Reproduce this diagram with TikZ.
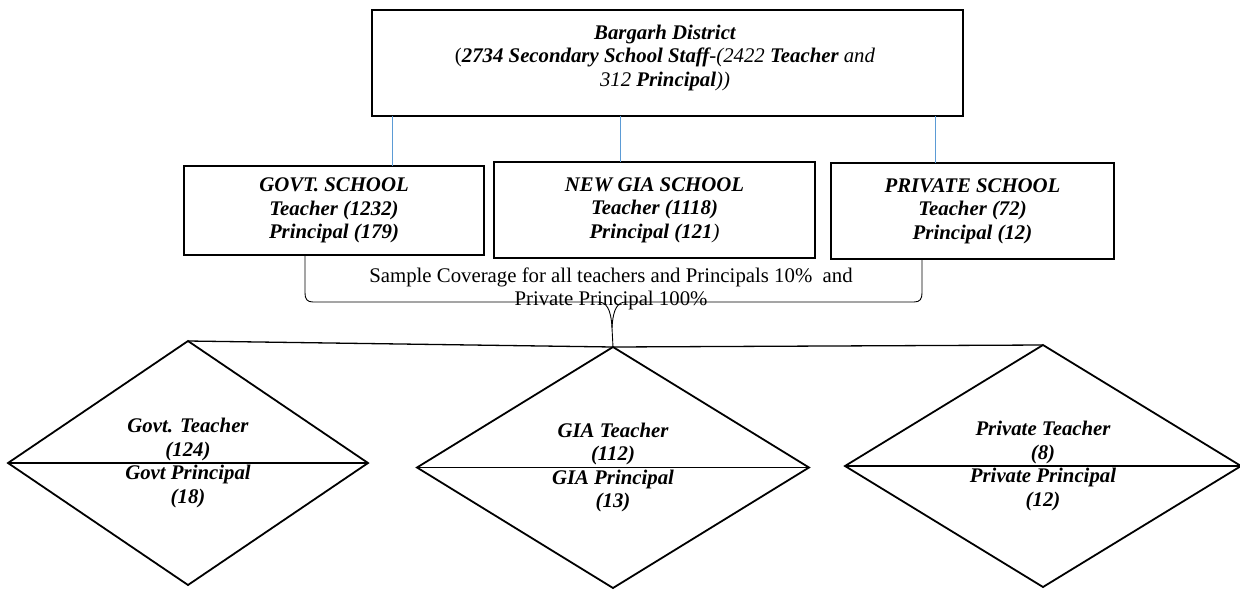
\documentclass[tikz,border=0pt]{standalone}
\usepackage{fontspec}
\setmainfont{Liberation Serif}[BoldFont={Liberation Serif Bold},ItalicFont={Liberation Serif Italic},BoldItalicFont={Liberation Serif Bold Italic}]
\usetikzlibrary{shapes.geometric}
\definecolor{linkblue}{RGB}{91,155,213}
\begin{document}
\begin{tikzpicture}[x=1pt,y=-1pt,
  txt/.style={align=center, inner sep=0pt, font=\fontsize{20.8}{23.5}\selectfont},
  lbl/.style={txt, font=\fontsize{20.8}{23.5}\selectfont\bfseries\itshape},
  box/.style={draw, line width=2.4pt, inner sep=0pt, outer sep=0pt},
  dia/.style={lbl, draw, diamond, line width=1.8pt, outer sep=0pt},
  link/.style={draw=linkblue, line width=0.9pt},
  bracel/.style={draw, line width=0.9pt},
  baseline/.style={draw, line width=1.3pt}]
\useasboundingbox (0,0) rectangle (1240,590);

% top box
\node[box, minimum width=591pt, minimum height=106pt] (top) at (667.5,63) {};
\node[lbl] (toptxt) at (665,57.5) {Bargarh District\\{\mdseries\upshape(}2734 Secondary School Staff{\mdseries-(2422} Teacher {\mdseries and}\\{\mdseries 312} Principal{\mdseries))}};

% school boxes
\node[box, lbl, minimum width=300pt, minimum height=89pt] (govt) at (334,210.5) {GOVT. SCHOOL\\Teacher (1232)\\Principal (179)};
\node[box, lbl, minimum width=321pt, minimum height=96pt] (gia) at (654.5,210) {NEW GIA SCHOOL\\Teacher (1118)\\Principal (121{\mdseries)}};
\node[box, lbl, minimum width=283pt, minimum height=96pt] (priv) at (972.5,211) {PRIVATE SCHOOL\\Teacher (72)\\Principal (12)};

% blue links
\coordinate (x1) at (392,0);
\coordinate (x2) at (620,0);
\coordinate (x3) at (935,0);
\draw[link] (top.south -| x1) -- (govt.north -| x1);
\draw[link] (top.south -| x2) -- (gia.north -| x2);
\draw[link] (top.south -| x3) -- (priv.north -| x3);

% diamonds
\node[dia, minimum width=360pt, minimum height=244pt] (d1) at (188,463) {Govt. Teacher\\(124)\\Govt Principal\\(18)};
\node[dia, minimum width=392pt, minimum height=241pt] (d2) at (613,467.5) {GIA Teacher\\(112)\\GIA Principal\\(13)};
\node[dia, minimum width=396pt, minimum height=242pt] (d3) at (1043,466) {Private Teacher\\(8)\\Private Principal\\(12)};
\draw[line width=1.8pt] (d1.west) -- (d1.east);
\draw[line width=1.8pt] (d2.west) -- (d2.east);
\draw[line width=1.8pt] (d3.west) -- (d3.east);

% horizontal line over diamonds
\draw[baseline] (d1.north) -- (d2.north) -- (d3.north);

% sample coverage text
\node[txt] (sample) at (611,289) {Sample Coverage for all teachers and Principals 10\%~ and\\Private Principal 100\%};

% brace
\coordinate (bl) at (305,0);
\coordinate (br) at (922,0);
\coordinate (cusp) at (612,328);
\draw[bracel] (govt.south -| bl) -- (305,293) .. controls (305,299) and (307,302) .. (313,302)
  -- (598,302) .. controls (606,302) and (611,308) .. (cusp);
\draw[bracel] (priv.south -| br) -- (922,293) .. controls (922,299) and (920,302) .. (914,302)
  -- (626,302) .. controls (618,302) and (613,308) .. (cusp);
\draw[bracel] (cusp) -- (d2.north);
\end{tikzpicture}
\end{document}
